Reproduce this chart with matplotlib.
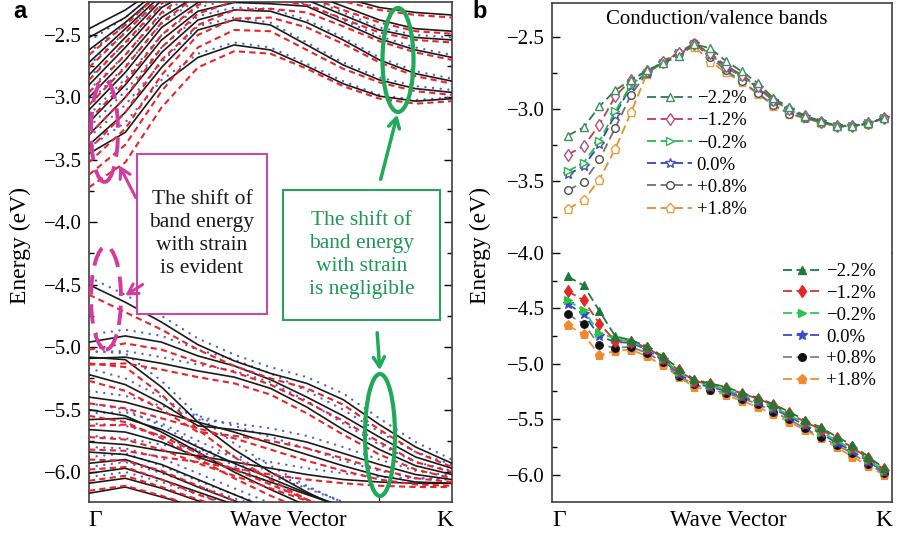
import numpy as np
import matplotlib.pyplot as plt
from matplotlib.lines import Line2D
from matplotlib.patches import Ellipse, Rectangle

plt.rcParams['font.family'] = ['Liberation Serif', 'DejaVu Serif']

# ---------------- panel a: band structure for three strain states ----------------
KA = [0.0, 0.1, 0.2, 0.3, 0.4, 0.5, 0.6, 0.7, 0.8, 0.9, 1.0]

# conduction bands (solid black / dashed red / dotted blue)
CB_BLACK = [
    [-3.45, -3.28, -2.90, -2.68, -2.58, -2.62, -2.75, -2.89, -2.99, -3.03, -3.01],
    [-3.38, -3.12, -2.76, -2.46, -2.38, -2.42, -2.58, -2.74, -2.86, -2.93, -2.96],
    [-3.30, -3.00, -2.64, -2.38, -2.30, -2.31, -2.40, -2.54, -2.70, -2.81, -2.87],
    [-3.20, -2.90, -2.54, -2.31, -2.24, -2.25, -2.27, -2.40, -2.53, -2.62, -2.68],
    [-3.10, -2.80, -2.44, -2.24, -2.18, -2.19, -2.22, -2.34, -2.46, -2.52, -2.54],
    [-3.00, -2.70, -2.36, -2.18, -2.12, -2.12, -2.16, -2.27, -2.38, -2.45, -2.47],
    [-2.90, -2.60, -2.28, -2.12, -2.08, -2.08, -2.10, -2.20, -2.28, -2.32, -2.34],
    [-2.82, -2.52, -2.22, -2.02],
    [-2.72, -2.45, -2.18, -2.00],
    [-2.62, -2.40, -2.15],
    [-2.52, -2.36, -2.12],
    [-2.45, -2.30, -2.10],
]
CB_RED = [
    [-3.72, -3.52, -3.08, -2.76, -2.63, -2.65, -2.77, -2.91, -3.01, -3.05, -3.03],
    [-3.62, -3.38, -2.95, -2.60, -2.46, -2.47, -2.62, -2.77, -2.88, -2.95, -2.98],
    [-3.52, -3.25, -2.82, -2.50, -2.37, -2.36, -2.44, -2.57, -2.72, -2.83, -2.89],
    [-3.42, -3.12, -2.70, -2.42, -2.30, -2.29, -2.32, -2.43, -2.55, -2.64, -2.70],
    [-3.30, -3.00, -2.60, -2.33, -2.23, -2.22, -2.26, -2.37, -2.48, -2.54, -2.56],
    [-3.18, -2.88, -2.50, -2.26, -2.17, -2.16, -2.19, -2.30, -2.40, -2.47, -2.49],
    [-3.06, -2.76, -2.40, -2.18, -2.12, -2.11, -2.13, -2.23, -2.30, -2.34, -2.36],
    [-2.96, -2.66, -2.32, -2.10],
    [-2.86, -2.56, -2.25, -2.04],
    [-2.76, -2.48, -2.20, -2.00],
    [-2.66, -2.42, -2.15],
]
CB_BLUE = [
    [-3.40, -3.20, -2.86, -2.65, -2.56, -2.60, -2.73, -2.87, -2.98, -3.02, -3.00],
    [-3.32, -3.06, -2.72, -2.43, -2.36, -2.40, -2.56, -2.72, -2.84, -2.91, -2.94],
    [-3.24, -2.95, -2.60, -2.35, -2.28, -2.29, -2.38, -2.52, -2.68, -2.79, -2.85],
    [-3.14, -2.85, -2.50, -2.28, -2.21, -2.22, -2.25, -2.38, -2.51, -2.60, -2.66],
    [-3.04, -2.75, -2.41, -2.21, -2.16, -2.17, -2.20, -2.32, -2.44, -2.50, -2.52],
    [-2.94, -2.66, -2.33, -2.15, -2.10],
    [-2.84, -2.57, -2.26, -2.10],
    [-2.74, -2.48, -2.20],
    [-2.64, -2.42, -2.16],
    [-2.55, -2.36, -2.12],
]

# valence bands
VB_BLACK = [
    [-4.50, -4.64, -4.80, -4.98, -5.11, -5.21, -5.29, -5.42, -5.62, -5.80, -5.93],
    [-4.96, -4.91, -4.96, -5.07, -5.15, -5.26, -5.40, -5.55, -5.72, -5.88, -5.97],
    [-5.09, -5.08, -5.13, -5.19, -5.24, -5.33, -5.48, -5.66, -5.82, -5.95, -6.02],
    [-5.08, -5.10, -5.32, -5.60, -5.82, -6.00, -6.16, -6.30],
    [-5.22, -5.30, -5.45, -5.63, -5.66, -5.70, -5.76, -5.85, -5.94, -6.02, -6.06],
    [-5.40, -5.44, -5.52, -5.60, -5.68, -5.77, -5.86, -5.95, -6.03, -6.08, -6.09],
    [-5.50, -5.55, -5.68, -5.84, -6.00, -6.14, -6.27],
    [-5.58, -5.57, -5.66, -5.80, -5.93, -6.05, -6.17, -6.28],
    [-5.66, -5.68, -5.76, -5.88, -5.98, -6.08, -6.18, -6.28],
    [-5.76, -5.78, -5.83, -5.87, -5.92, -5.97, -6.02, -6.06, -6.08, -6.09, -6.09],
    [-5.84, -5.86, -5.94, -6.06, -6.18, -6.30],
    [-5.93, -5.90, -6.00, -6.12, -6.23, -6.32],
    [-6.01, -5.97, -6.06, -6.16, -6.26],
    [-6.09, -6.05, -6.13, -6.23, -6.30],
    [-6.17, -6.12, -6.20, -6.28],
]
VB_RED = [
    [-4.58, -4.72, -4.86, -5.02, -5.15, -5.25, -5.33, -5.46, -5.66, -5.84, -5.96],
    [-5.02, -4.97, -5.02, -5.12, -5.20, -5.30, -5.44, -5.59, -5.76, -5.92, -6.00],
    [-5.14, -5.13, -5.18, -5.24, -5.29, -5.38, -5.53, -5.70, -5.86, -5.98, -6.05],
    [-5.13, -5.16, -5.38, -5.66, -5.88, -6.06, -6.22, -6.34],
    [-5.27, -5.35, -5.50, -5.68, -5.71, -5.75, -5.81, -5.89, -5.98, -6.05, -6.08],
    [-5.45, -5.49, -5.57, -5.65, -5.73, -5.82, -5.91, -5.99, -6.06, -6.10, -6.11],
    [-5.55, -5.60, -5.73, -5.89, -6.05, -6.19, -6.31],
    [-5.63, -5.62, -5.71, -5.85, -5.98, -6.10, -6.22, -6.32],
    [-5.72, -5.74, -5.82, -5.93, -6.03, -6.13, -6.23, -6.32],
    [-5.82, -5.83, -5.88, -5.92, -5.97, -6.02, -6.06, -6.09, -6.11, -6.12, -6.12],
    [-5.90, -5.91, -5.99, -6.11, -6.23, -6.34],
    [-5.98, -5.96, -6.06, -6.18, -6.28],
    [-6.07, -6.03, -6.12, -6.22, -6.31],
    [-6.15, -6.11, -6.19, -6.28],
]
VB_BLUE = [
    [-4.44, -4.58, -4.75, -4.93, -5.06, -5.16, -5.24, -5.37, -5.57, -5.76, -5.90],
    [-4.90, -4.86, -4.91, -5.02, -5.10, -5.21, -5.35, -5.50, -5.68, -5.84, -5.94],
    [-5.04, -5.03, -5.08, -5.14, -5.19, -5.28, -5.43, -5.61, -5.78, -5.92, -5.99],
    [-5.03, -5.05, -5.27, -5.55, -5.77, -5.95, -6.11, -6.25],
    [-5.17, -5.25, -5.40, -5.58, -5.61, -5.65, -5.71, -5.80, -5.90, -5.99, -6.03],
    [-5.35, -5.39, -5.47, -5.55, -5.63, -5.72, -5.81, -5.91, -5.99, -6.05, -6.06],
    [-5.45, -5.50, -5.63, -5.79, -5.95, -6.09, -6.22],
    [-5.53, -5.52, -5.61, -5.75, -5.88, -6.00, -6.12, -6.24],
    [-5.61, -5.63, -5.71, -5.83, -5.93, -6.03, -6.13, -6.24],
    [-5.71, -5.73, -5.78, -5.82, -5.87, -5.92, -5.97, -6.01, -6.04, -6.05, -6.05],
    [-5.80, -5.81, -5.89, -6.01, -6.13, -6.25],
    [-5.88, -5.85, -5.95, -6.07, -6.18, -6.28],
    [-5.96, -5.92, -6.01, -6.11, -6.21, -6.30],
    [-6.04, -6.00, -6.08, -6.18, -6.26],
]

# ---------------- panel b: band edges along Gamma-K vs strain ----------------
STRAINS = ['\u22122.2%', '\u22121.2%', '\u22120.2%', '0.0%', '+0.8%', '+1.8%']
XB = np.arange(21)

CB_EDGE = [
    [-3.185, -3.128, -2.982, -2.871, -2.798, -2.733, -2.682, -2.636, -2.552, -2.578, -2.668,
     -2.740, -2.820, -2.925, -2.990, -3.048, -3.084, -3.116, -3.118, -3.097, -3.063],
    [-3.317, -3.259, -3.109, -2.913, -2.798, -2.740, -2.677, -2.613, -2.548, -2.613, -2.700,
     -2.763, -2.843, -2.936, -3.003, -3.052, -3.088, -3.118, -3.120, -3.099, -3.063],
    [-3.432, -3.374, -3.224, -3.017, -2.832, -2.749, -2.680, -2.615, -2.548, -2.620, -2.710,
     -2.770, -2.850, -2.940, -3.006, -3.054, -3.090, -3.119, -3.121, -3.100, -3.064],
    [-3.455, -3.398, -3.247, -3.040, -2.839, -2.750, -2.680, -2.615, -2.548, -2.625, -2.714,
     -2.773, -2.853, -2.943, -3.008, -3.055, -3.090, -3.120, -3.121, -3.100, -3.064],
    [-3.564, -3.508, -3.351, -3.132, -2.901, -2.751, -2.671, -2.609, -2.544, -2.641, -2.733,
     -2.809, -2.890, -2.971, -3.033, -3.063, -3.093, -3.121, -3.121, -3.102, -3.063],
    [-3.693, -3.633, -3.490, -3.277, -3.024, -2.756, -2.671, -2.613, -2.567, -2.671, -2.747,
     -2.816, -2.894, -2.977, -3.033, -3.065, -3.095, -3.122, -3.122, -3.102, -3.064],
]
VB_EDGE = [
    [-4.212, -4.293, -4.524, -4.752, -4.788, -4.842, -4.932, -5.043, -5.142, -5.178, -5.209,
     -5.263, -5.305, -5.365, -5.434, -5.509, -5.575, -5.659, -5.734, -5.839, -5.944],
    [-4.344, -4.428, -4.638, -4.794, -4.803, -4.854, -4.944, -5.059, -5.155, -5.185, -5.215,
     -5.269, -5.314, -5.374, -5.449, -5.524, -5.593, -5.674, -5.755, -5.854, -5.953],
    [-4.428, -4.518, -4.722, -4.773, -4.803, -4.854, -4.953, -5.074, -5.164, -5.194, -5.233,
     -5.284, -5.329, -5.389, -5.464, -5.539, -5.614, -5.695, -5.773, -5.869, -5.965],
    [-4.464, -4.548, -4.752, -4.803, -4.812, -4.872, -4.968, -5.088, -5.178, -5.209, -5.245,
     -5.299, -5.344, -5.404, -5.479, -5.554, -5.629, -5.713, -5.788, -5.884, -5.975],
    [-4.554, -4.638, -4.833, -4.854, -4.848, -4.902, -4.983, -5.113, -5.185, -5.233, -5.263,
     -5.314, -5.359, -5.434, -5.503, -5.584, -5.659, -5.734, -5.809, -5.905, -5.989],
    [-4.653, -4.734, -4.923, -4.884, -4.872, -4.932, -5.014, -5.119, -5.209, -5.239, -5.284,
     -5.335, -5.389, -5.455, -5.524, -5.599, -5.674, -5.755, -5.839, -5.923, -6.005],
]

MARKERS = ['^', 'd', '>', '*', 'o', 'p']
CB_LINE = ['#2d7d46', '#c23a55', '#22c040', '#3444c0', '#707070', '#f08a28']
CB_MARK = ['#3f8f60', '#b0507a', '#2cb050', '#4c4cb4', '#505050', '#e0a040']
VB_LINE = ['#1d7a3a', '#d83030', '#2acc48', '#3a4ac8', '#808080', '#f0903a']
VB_MARK = ['#1d7a3a', '#e02828', '#22c844', '#3a4ac8', '#111111', '#f08a30']
MSIZE = [6, 6, 6, 7, 5.5, 6.5]

W, H = 898, 540
fig = plt.figure(figsize=(W / 100, H / 100), dpi=100)


def px_box(x0, y0, x1, y1):
    return [x0 / W, 1 - y1 / H, (x1 - x0) / W, (y1 - y0) / H]


def style_axis(ax):
    for s in ax.spines.values():
        s.set_linewidth(1.2)
        s.set_color('#404040')
    ax.tick_params(axis='y', which='both', direction='in', labelsize=15, pad=5, width=1.0)
    ax.tick_params(axis='y', which='major', length=6)
    ax.tick_params(axis='y', which='minor', length=3.5)


# ---- panel a ----
axa = fig.add_axes(px_box(89, 2, 452, 502))
for row in CB_BLUE + VB_BLUE:
    axa.plot(KA[:len(row)], row, color='#5060c8', lw=1.7, ls=(0, (0.05, 3.2)),
             dash_capstyle='round', zorder=2)
for row in CB_BLACK + VB_BLACK:
    axa.plot(KA[:len(row)], row, color='#1a1a1a', lw=1.2, zorder=3)
for row in CB_RED + VB_RED:
    axa.plot(KA[:len(row)], row, color='#e8242b', lw=1.5, ls=(0, (3, 2)), zorder=4)

axa.set_xlim(0, 1)
axa.set_ylim(-6.24, -2.236)
axa.set_yticks([-2.5, -3.0, -3.5, -4.0, -4.5, -5.0, -5.5, -6.0])
axa.set_yticks([-2.75, -3.25, -3.75, -4.25, -4.75, -5.25, -5.75], minor=True)
axa.set_xticks([0.8])
axa.set_xticklabels([''])
axa.tick_params(axis='x', direction='in', length=5)
style_axis(axa)
axa.tick_params(axis='y', which='both', right=True)


def pa(x, y):
    return ((x - 89) / 363, -2.5 - (y - 35) / 124.86)


pink = '#d23c9c'
green = '#1faa5a'
for (cx, cy), w, h in [((104.5, 131), 27, 102), ((106, 298), 30, 103)]:
    axa.add_patch(Ellipse(pa(cx, cy), w / 363, h / 124.86, fill=False, ec=pink, lw=2.8,
                          ls=(0, (5, 2.5)), zorder=8, clip_on=False))
for (cx, cy), w, h in [((398, 60), 31, 104), ((380, 435), 30, 122)]:
    axa.add_patch(Ellipse(pa(cx, cy), w / 363, h / 124.86, fill=False, ec=green, lw=3,
                          zorder=8))

arrow_kw = '->,head_length=0.7,head_width=0.4'
axa.annotate('', xy=pa(118, 163), xytext=pa(137, 200),
             arrowprops=dict(arrowstyle=arrow_kw, color=pink, lw=2.2), zorder=9)
axa.annotate('', xy=pa(123, 297), xytext=pa(145, 283),
             arrowprops=dict(arrowstyle=arrow_kw, color=pink, lw=2.2), zorder=9)
axa.annotate('', xy=pa(398, 112), xytext=pa(380, 182),
             arrowprops=dict(arrowstyle=arrow_kw, color=green, lw=2.5), zorder=9)
axa.annotate('', xy=pa(380, 373), xytext=pa(377, 330),
             arrowprops=dict(arrowstyle=arrow_kw, color=green, lw=2.5), zorder=9)

x0, y0 = pa(137, 314)
x1, y1 = pa(267, 154)
axa.add_patch(Rectangle((x0, y0), x1 - x0, y1 - y0, fc='white', ec='#c24aaa', lw=1.5, zorder=7))
axa.text((x0 + x1) / 2, (y0 + y1) / 2, 'The shift of\nband energy\nwith strain\nis evident',
         ha='center', va='center', fontsize=15.5, linespacing=1.3, color='#1a1a1a', zorder=10)
x0, y0 = pa(283, 320)
x1, y1 = pa(440, 190)
axa.add_patch(Rectangle((x0, y0), x1 - x0, y1 - y0, fc='white', ec='#2aa060', lw=1.5, zorder=7))
axa.text((x0 + x1) / 2, (y0 + y1) / 2, 'The shift of\nband energy\nwith strain\nis negligible',
         ha='center', va='center', fontsize=15.5, linespacing=1.3, color='#1e9655', zorder=10)

# ---- panel b (upper: conduction, lower: valence) ----
axu = fig.add_axes(px_box(552, 3, 892, 253))
axl = fig.add_axes(px_box(552, 253, 892, 502), sharex=axu)

for i in reversed(range(6)):
    axu.plot(XB, CB_EDGE[i], color=CB_LINE[i], lw=1.3, ls=(0, (5, 2.5)), marker=MARKERS[i],
             ms=MSIZE[i], mfc='white', mec=CB_MARK[i], mew=1.0)
    axl.plot(XB, VB_EDGE[i], color=VB_LINE[i], lw=1.3, ls=(0, (5, 2.5)), marker=MARKERS[i],
             ms=MSIZE[i], mfc=VB_MARK[i], mec=VB_MARK[i], mew=0.8)

axu.set_xlim(-1.0, 20.5)
axu.set_ylim(-4.0, -2.265)
axl.set_ylim(-6.248, -4.0)
axu.set_yticks([-2.5, -3.0, -3.5])
axu.set_yticks([-2.75, -3.25, -3.75], minor=True)
axl.set_yticks([-4.0, -4.5, -5.0, -5.5, -6.0])
axl.set_yticks([-4.25, -4.75, -5.25, -5.75], minor=True)
for ax in (axu, axl):
    style_axis(ax)
    ax.tick_params(axis='x', bottom=False, labelbottom=False)
axu.spines['bottom'].set_visible(False)
axl.spines['top'].set_visible(False)

cb_handles = [Line2D([], [], color=CB_LINE[i], lw=1.3, ls=(0, (5, 2.5)), marker=MARKERS[i],
                     ms=MSIZE[i], mfc='white', mec=CB_MARK[i], mew=1.0) for i in range(6)]
axu.legend(cb_handles, STRAINS, loc='upper left', bbox_to_anchor=(647 / W, 1 - 90 / H),
           bbox_transform=fig.transFigure, frameon=False, fontsize=13.5, handlelength=2.4,
           handletextpad=0.25, labelspacing=0.27, borderpad=0, borderaxespad=0)
vb_handles = [Line2D([], [], color=VB_LINE[i], lw=1.3, ls=(0, (5, 2.5)), marker=MARKERS[i],
                     ms=MSIZE[i], mfc=VB_MARK[i], mec=VB_MARK[i]) for i in range(6)]
axl.legend(vb_handles, STRAINS, loc='upper left', bbox_to_anchor=(783 / W, 1 - 263 / H),
           bbox_transform=fig.transFigure, frameon=False, fontsize=13.5, handlelength=2.0,
           handletextpad=0.3, labelspacing=0.25, borderpad=0, borderaxespad=0)

fig.text(717 / W, 1 - 20 / H, 'Conduction/valence bands', ha='center', va='center', fontsize=15)

# ---- shared labels ----
for xc in (20, 480):
    fig.text(xc / W, 1 - 245 / H, 'Energy (eV)', rotation=90, ha='center', va='center', fontsize=17)
fig.text(288 / W, 1 - 521 / H, 'Wave Vector', ha='center', va='center', fontsize=16.5)
fig.text(728 / W, 1 - 521 / H, 'Wave Vector', ha='center', va='center', fontsize=16.5)
for xl, xr in [(88, 453), (552, 892)]:
    fig.text(xl / W, 1 - 521 / H, '\u0393', ha='left', va='center', fontsize=17)
    fig.text(xr / W, 1 - 521 / H, 'K', ha='right', va='center', fontsize=17)

fig.text(13 / W, 1 - 12 / H, 'a', ha='left', va='center', fontsize=17, fontweight='bold',
         family='Liberation Sans')
fig.text(472 / W, 1 - 12 / H, 'b', ha='left', va='center', fontsize=17, fontweight='bold',
         family='Liberation Sans')

fig.savefig('out.png', dpi=100)
